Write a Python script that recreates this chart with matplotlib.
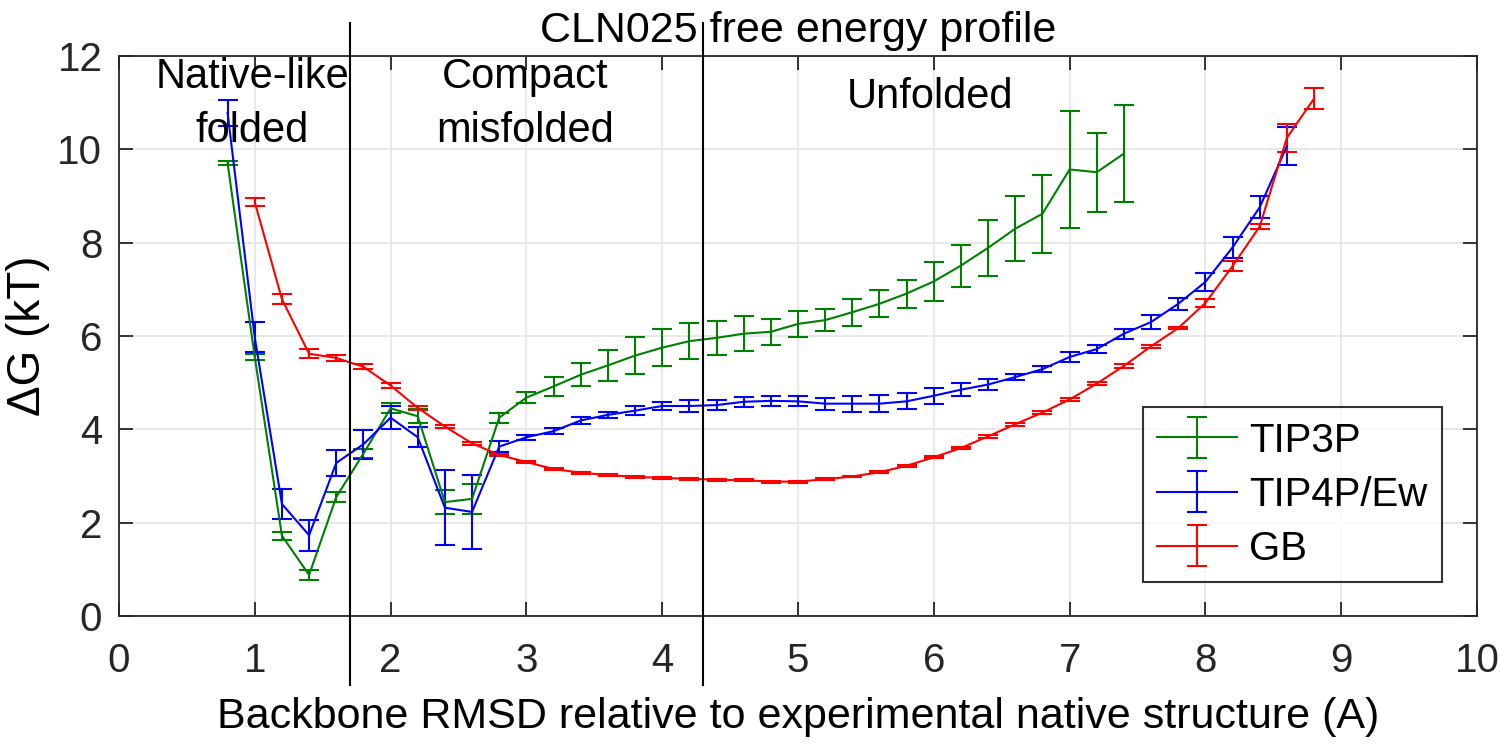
import numpy as np
import matplotlib
matplotlib.use("Agg")
import matplotlib.pyplot as plt

# RMSD grid (A) for each solvent model
x_tip3p = [0.8, 1.0, 1.2, 1.4, 1.6, 1.8, 2.0, 2.2, 2.4, 2.6, 2.8, 3.0, 3.2, 3.4, 3.6, 3.8, 4.0,
           4.2, 4.4, 4.6, 4.8, 5.0, 5.2, 5.4, 5.6, 5.8, 6.0, 6.2, 6.4, 6.6, 6.8, 7.0, 7.2, 7.4]
g_tip3p = [9.70, 5.55, 1.72, 0.88, 2.55, 3.48, 4.45, 4.28, 2.44, 2.51, 4.25, 4.68, 4.92, 5.17,
           5.37, 5.58, 5.75, 5.89, 5.96, 6.05, 6.09, 6.26, 6.34, 6.51, 6.69, 6.91, 7.17, 7.51,
           7.89, 8.30, 8.62, 9.57, 9.51, 9.91]
e_tip3p = [0.04, 0.07, 0.09, 0.11, 0.11, 0.10, 0.11, 0.15, 0.26, 0.32, 0.11, 0.12, 0.20, 0.25,
           0.33, 0.39, 0.39, 0.38, 0.36, 0.37, 0.28, 0.28, 0.24, 0.29, 0.29, 0.30, 0.41, 0.45,
           0.60, 0.70, 0.84, 1.25, 0.85, 1.03]

x_tip4p = [0.8, 1.0, 1.2, 1.4, 1.6, 1.8, 2.0, 2.2, 2.4, 2.6, 2.8, 3.0, 3.2, 3.4, 3.6, 3.8, 4.0,
           4.2, 4.4, 4.6, 4.8, 5.0, 5.2, 5.4, 5.6, 5.8, 6.0, 6.2, 6.4, 6.6, 6.8, 7.0, 7.2, 7.4,
           7.6, 7.8, 8.0, 8.2, 8.4, 8.6]
g_tip4p = [10.78, 5.97, 2.40, 1.73, 3.28, 3.68, 4.25, 3.83, 2.32, 2.23, 3.63, 3.83, 3.96, 4.19,
           4.31, 4.40, 4.50, 4.50, 4.52, 4.59, 4.61, 4.60, 4.55, 4.55, 4.55, 4.60, 4.72, 4.85,
           4.96, 5.12, 5.29, 5.55, 5.72, 6.05, 6.30, 6.69, 7.16, 7.90, 8.76, 10.07]
e_tip4p = [0.28, 0.32, 0.33, 0.33, 0.28, 0.31, 0.25, 0.21, 0.80, 0.79, 0.11, 0.05, 0.06, 0.07,
           0.07, 0.10, 0.08, 0.12, 0.11, 0.11, 0.11, 0.11, 0.13, 0.17, 0.18, 0.17, 0.17, 0.14,
           0.11, 0.07, 0.07, 0.10, 0.09, 0.11, 0.16, 0.13, 0.19, 0.22, 0.24, 0.41]

x_gb = [1.0, 1.2, 1.4, 1.6, 1.8, 2.0, 2.2, 2.4, 2.6, 2.8, 3.0, 3.2, 3.4, 3.6, 3.8, 4.0, 4.2,
        4.4, 4.6, 4.8, 5.0, 5.2, 5.4, 5.6, 5.8, 6.0, 6.2, 6.4, 6.6, 6.8, 7.0, 7.2, 7.4, 7.6,
        7.8, 8.0, 8.2, 8.4, 8.6, 8.8]
g_gb = [8.87, 6.79, 5.62, 5.53, 5.34, 4.94, 4.46, 4.06, 3.70, 3.45, 3.30, 3.15, 3.07, 3.02,
        2.98, 2.96, 2.94, 2.92, 2.91, 2.88, 2.88, 2.93, 2.99, 3.08, 3.22, 3.40, 3.60, 3.85,
        4.11, 4.36, 4.64, 4.98, 5.36, 5.78, 6.17, 6.71, 7.50, 8.35, 10.25, 11.09]
e_gb = [0.09, 0.10, 0.10, 0.07, 0.05, 0.05, 0.04, 0.03, 0.03, 0.03, 0.03, 0.02, 0.02, 0.02,
        0.02, 0.02, 0.02, 0.02, 0.02, 0.02, 0.02, 0.02, 0.02, 0.02, 0.02, 0.02, 0.03, 0.03,
        0.03, 0.03, 0.03, 0.03, 0.04, 0.03, 0.03, 0.08, 0.10, 0.05, 0.30, 0.23]

# region boundaries and labels
boundaries = [1.7, 4.3]
region_labels = ["Native-like\nfolded", "Compact\nmisfolded", "Unfolded"]
region_x = [0.98, 2.99, 5.97]
region_y = [10.98, 10.98, 11.12]

plt.rcParams['font.family'] = ['Liberation Sans', 'DejaVu Sans']
fs = 29
axc = '0.15'

fig = plt.figure(figsize=(15, 7.48), dpi=100)
ax = fig.add_axes([0.0793, 0.1765, 0.9054, 0.7486])

kw = dict(capsize=7.5, linewidth=1.5, elinewidth=1.5, capthick=1.5)
ax.errorbar(x_tip3p, g_tip3p, yerr=e_tip3p, color=(0, 0.5, 0), label='TIP3P', **kw)
ax.errorbar(x_tip4p, g_tip4p, yerr=e_tip4p, color='#0000ff', label='TIP4P/Ew', **kw)
ax.errorbar(x_gb, g_gb, yerr=e_gb, color='#ff0000', label='GB', **kw)

for b in boundaries:
    ax.plot([b, b], [-1.48, 12.7], color='k', linewidth=1.5, clip_on=False, zorder=5)

for lab, tx, ty in zip(region_labels, region_x, region_y):
    ax.text(tx, ty, lab, ha='center', va='center', fontsize=30, color='k', linespacing=1.45)

ax.set_xlim(0, 10)
ax.set_ylim(0, 12)
ax.set_xticks(np.arange(0, 11, 1))
ax.set_yticks(np.arange(0, 13, 2))
ax.grid(True, color='#e6e6e6', linewidth=1.3)
ax.set_axisbelow(True)
ax.tick_params(direction='in', length=10, width=1.3, colors=axc, labelsize=fs,
               top=True, right=True)
ax.tick_params(axis='x', pad=19)
ax.tick_params(axis='y', pad=12)
for s in ax.spines.values():
    s.set_color(axc)
    s.set_linewidth(1.3)

ax.set_title('CLN025 free energy profile', fontsize=31, color='k', pad=10)
ax.set_xlabel('Backbone RMSD relative to experimental native structure (A)', fontsize=31,
              color='k', labelpad=12)
ax.set_ylabel('ΔG (kT)', fontsize=33, color='k', labelpad=5)

leg = ax.legend(loc='lower right', bbox_to_anchor=(0.974, 0.061), borderaxespad=0,
                fontsize=fs, frameon=True, fancybox=False, handlelength=2.0,
                handletextpad=0.3, labelspacing=0.4, borderpad=0.35)
leg.get_frame().set_edgecolor('k')
leg.get_frame().set_linewidth(1.5)

plt.savefig('out.png', dpi=100)
